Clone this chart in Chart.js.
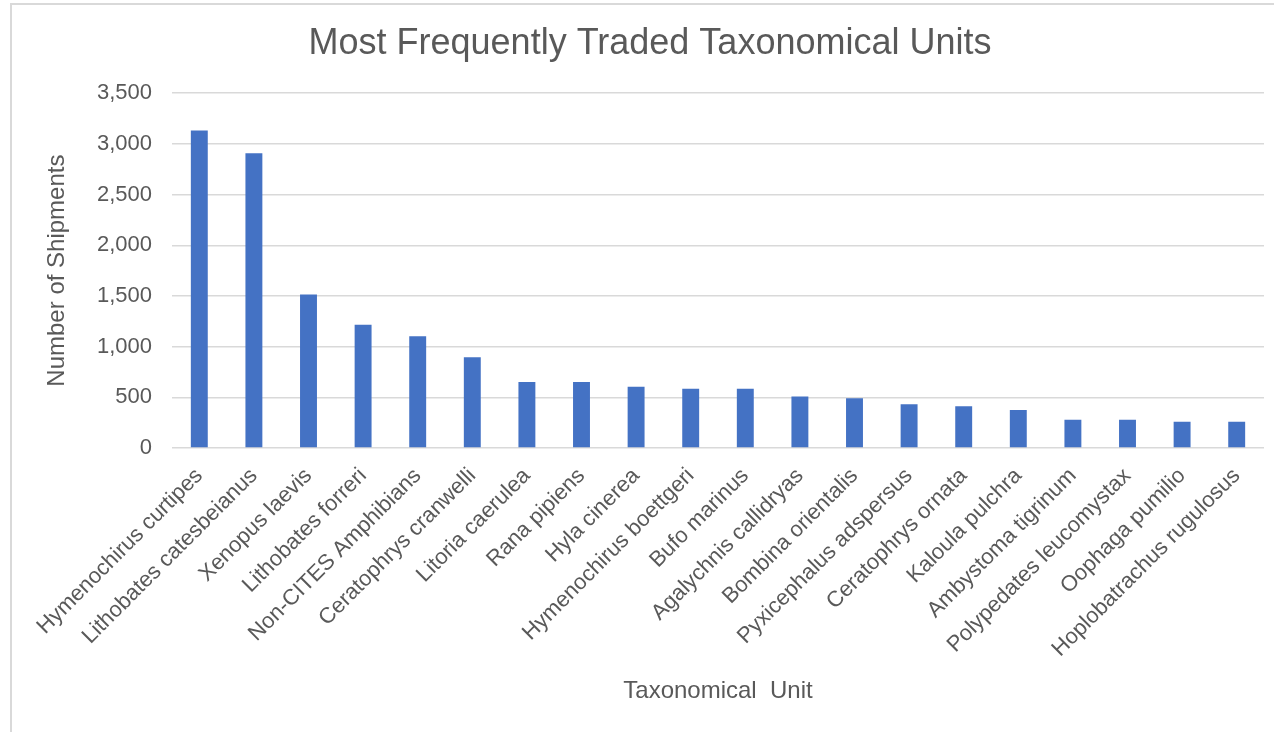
<!DOCTYPE html>
<html>
<head>
<meta charset="utf-8">
<title>Most Frequently Traded Taxonomical Units</title>
<script src="https://cdn.jsdelivr.net/npm/chart.js@4.4.1/dist/chart.umd.min.js"></script>
<style>
    html, body {
        margin: 0;
        padding: 0;
        background: #ffffff;
    }
    #wrap {
        position: relative;
        width: 1274px;
        height: 732px;
        overflow: hidden;
    }
    #frame {
        position: absolute;
        left: 10px;
        top: 3px;
        width: 1300px;
        height: 800px;
        border-left: 2px solid #d9d9d9;
        border-top: 2px solid #d9d9d9;
    }
    #chart {
        position: absolute;
        left: 0;
        top: 0;
    }
</style>
</head>
<body>
<div id="wrap">
    <div id="frame"></div>
    <canvas id="chart" width="1274" height="732"></canvas>
</div>
<script>
const taxa = [
    'Hymenochirus curtipes', 'Lithobates catesbeianus', 'Xenopus laevis', 'Lithobates forreri',
    'Non-CITES Amphibians', 'Ceratophrys cranwelli', 'Litoria caerulea', 'Rana pipiens',
    'Hyla cinerea', 'Hymenochirus boettgeri', 'Bufo marinus', 'Agalychnis callidryas',
    'Bombina orientalis', 'Pyxicephalus adspersus', 'Ceratophrys ornata', 'Kaloula pulchra',
    'Ambystoma tigrinum', 'Polypedates leucomystax', 'Oophaga pumilio', 'Hoplobatrachus rugulosus'
];
const shipments = [
    3131, 2907, 1515, 1215,
    1103, 896, 652, 652,
    605, 585, 585, 507,
    490, 432, 412, 374,
    279, 279, 259, 259
];
const yTicks = [0, 500, 1000, 1500, 2000, 2500, 3000, 3500];

const grey = '#595959';
const font = 'Liberation Sans';

const ctx = document.getElementById('chart').getContext('2d');
new Chart(ctx, {
    type: 'bar',
    data: {
        labels: taxa,
        datasets: [{
            label: 'Number of Shipments',
            data: shipments,
            backgroundColor: '#4472c4',
            borderWidth: 0,
            barPercentage: 1,
            categoryPercentage: 0.31
        }]
    },
    options: {
        responsive: false,
        animation: false,
        layout: {
            padding: { left: 36, right: 10, top: 22, bottom: 0 }
        },
        plugins: {
            legend: { display: false },
            tooltip: { enabled: false },
            title: {
                display: true,
                text: 'Most Frequently Traded Taxonomical Units',
                color: grey,
                font: { family: font, size: 36, weight: 'normal' },
                padding: { top: 0, bottom: 28 }
            }
        },
        scales: {
            x: {
                grid: { display: false },
                border: { display: false },
                ticks: {
                    color: grey,
                    font: { family: font, size: 22 },
                    minRotation: 45,
                    maxRotation: 45,
                    autoSkip: false,
                    padding: 7
                },
                title: {
                    display: true,
                    text: 'Taxonomical  Unit',
                    color: grey,
                    font: { family: font, size: 24 },
                    padding: { top: 0, bottom: 26 }
                },
                afterFit: scale => { scale.height = 284; }
            },
            y: {
                min: 0,
                max: 3500,
                afterBuildTicks: scale => {
                    scale.ticks = yTicks.map(v => ({ value: v }));
                },
                grid: {
                    color: '#d9d9d9',
                    lineWidth: 1.5,
                    drawTicks: false
                },
                border: { display: false },
                ticks: {
                    color: grey,
                    font: { family: font, size: 22 },
                    padding: 20,
                    callback: v => v.toLocaleString('en-US')
                },
                title: {
                    display: true,
                    text: 'Number of Shipments',
                    color: grey,
                    font: { family: font, size: 24 },
                    padding: { top: 7, bottom: 0 }
                },
                afterFit: scale => { scale.width = 136; }
            }
        }
    }
});
</script>
</body>
</html>
